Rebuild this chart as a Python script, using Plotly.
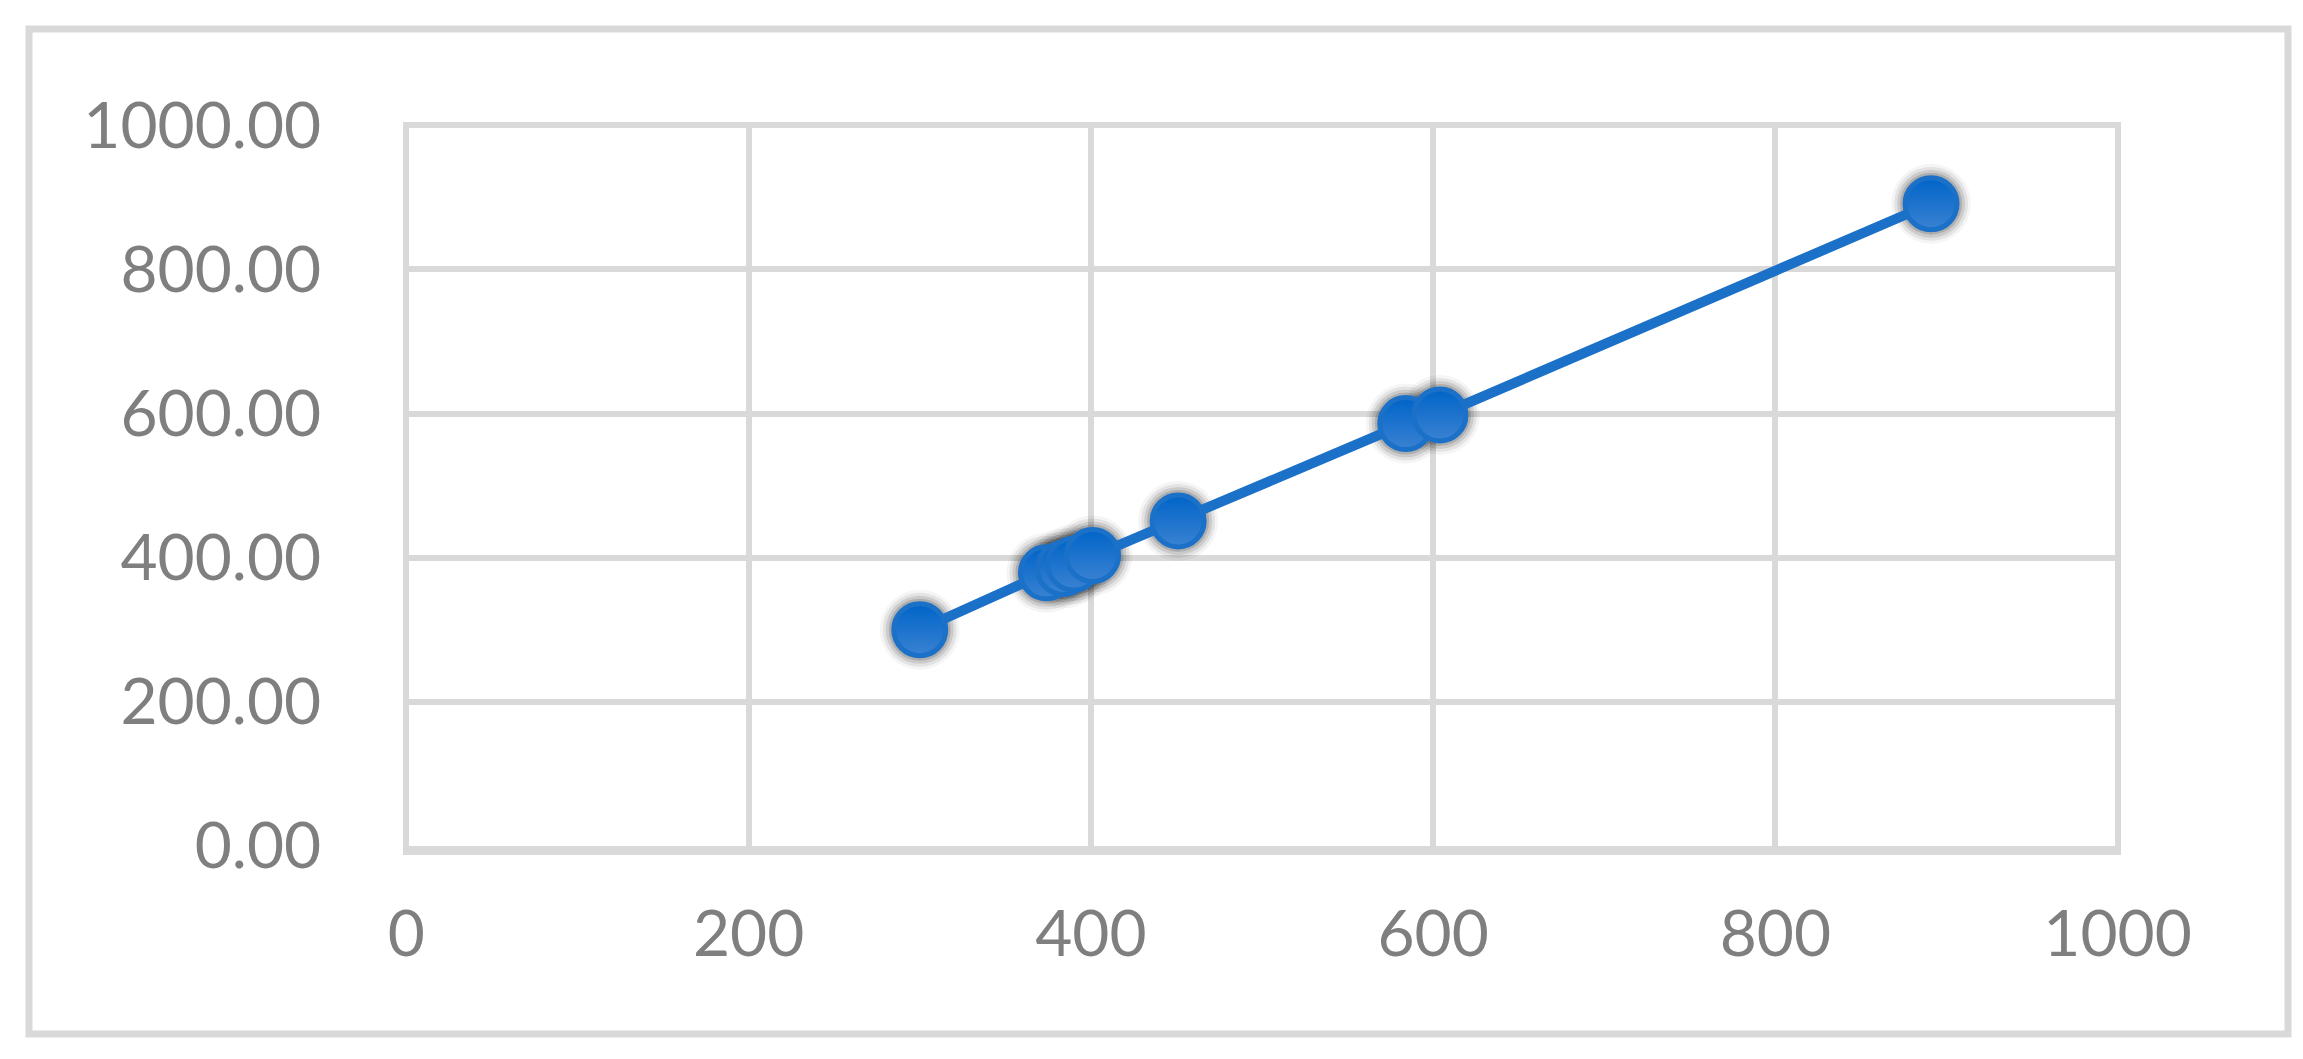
import plotly.graph_objects as go

# data
x_vals = [300, 374, 384, 390, 401, 451, 584, 604, 891]
y_vals = [300, 379, 385, 391, 403, 451, 586, 598, 891]

x_ticks = [0, 200, 400, 600, 800, 1000]
y_ticks = [0, 200, 400, 600, 800, 1000]

blue = "#1b70c8"
grid = "#d9d9d9"
label_grey = "#7f7f7f"

fig = go.Figure()

# soft shadow under the markers
for size, alpha in [(80, 0.04), (74, 0.07), (68, 0.10), (62, 0.14)]:
    fig.add_trace(go.Scatter(
        x=x_vals, y=y_vals, mode="markers",
        marker=dict(size=size, color=f"rgba(0,0,0,{alpha})", line=dict(width=0)),
        hoverinfo="skip", showlegend=False,
    ))

# connecting line
fig.add_trace(go.Scatter(
    x=x_vals, y=y_vals, mode="lines",
    line=dict(color=blue, width=10),
    showlegend=False,
))

# markers
fig.add_trace(go.Scatter(
    x=x_vals, y=y_vals, mode="markers",
    marker=dict(size=52, color="#0064c8",
                gradient=dict(type="vertical", color="#3a82d2"),
                line=dict(color=blue, width=5)),
    showlegend=False,
))

fig.update_layout(
    width=2303, height=1059,
    margin=dict(l=395, r=190, t=115, b=221),
    paper_bgcolor="white", plot_bgcolor="white",
    font=dict(family="Lato, Open Sans, sans-serif", size=64, color=label_grey),
    shapes=[dict(type="rect", xref="paper", yref="paper",
                 x0=-0.2177, x1=1.0972, y0=-0.26, y1=1.13,
                 line=dict(color=grid, width=7), layer="below")],
)

fig.update_xaxes(
    range=[-2, 1002], tickvals=x_ticks, ticktext=[str(v) for v in x_ticks],
    showgrid=True, gridcolor=grid, gridwidth=6, zeroline=False,
    showline=True, linecolor=grid, linewidth=9,
    ticks="outside", ticklen=24, tickcolor="white", tickwidth=1,
)
fig.update_yaxes(
    range=[0, 1003], tickvals=y_ticks, ticktext=[f"{v:.2f}" for v in y_ticks],
    showgrid=True, gridcolor=grid, gridwidth=6, zeroline=False,
    showline=False,
    ticks="outside", ticklen=68, tickcolor="white", tickwidth=1,
)

fig.write_html("out.html")
